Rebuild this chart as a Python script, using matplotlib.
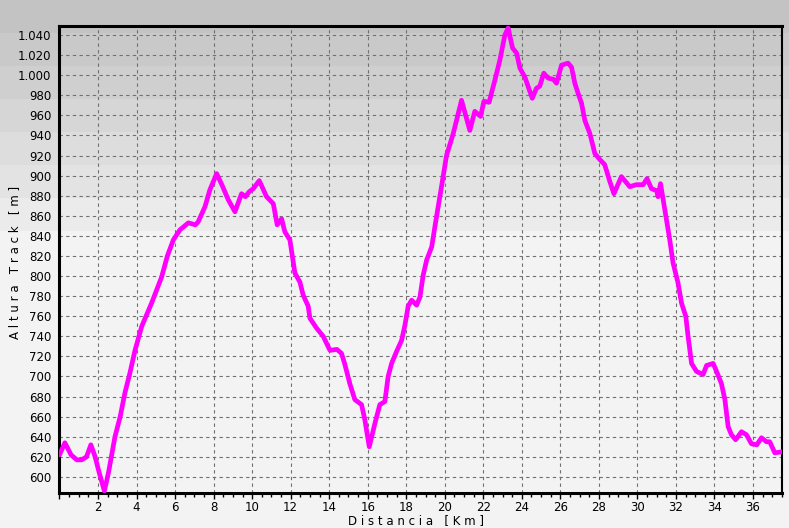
import numpy as np
import matplotlib
matplotlib.use('Agg')
import matplotlib.pyplot as plt
from matplotlib.ticker import MultipleLocator, FuncFormatter

# distance (km) and altitude (m)
dist_km = [0.0, 0.28, 0.6, 0.9, 1.15, 1.4, 1.63, 1.85, 2.05, 2.33,
           2.55, 2.88, 3.15, 3.40, 3.65, 3.92, 4.27, 4.78, 5.30, 5.6,
           5.91, 6.25, 6.69, 7.05, 7.2, 7.55, 7.81, 8.16, 8.45, 8.76,
           9.11, 9.3, 9.45, 9.65, 9.85, 10.06, 10.37, 10.75, 11.1, 11.3,
           11.53, 11.7, 11.96, 12.22, 12.48, 12.65, 12.91, 13.0, 13.35, 13.69,
           14.04, 14.4, 14.64, 14.8, 15.07, 15.33, 15.68, 15.85, 16.08, 16.37,
           16.63, 16.89, 17.06, 17.24, 17.5, 17.76, 17.93, 18.1, 18.28, 18.54,
           18.71, 18.88, 19.06, 19.32, 19.57, 19.83, 20.09, 20.44, 20.87, 21.3,
           21.56, 21.86, 22.03, 22.3, 22.6, 22.86, 23.12, 23.29, 23.52, 23.73,
           23.9, 24.16, 24.54, 24.76, 24.93, 25.14, 25.37, 25.63, 25.8, 26.06,
           26.4, 26.58, 26.75, 26.92, 27.1, 27.27, 27.53, 27.79, 28.05, 28.3,
           28.57, 28.78, 29.17, 29.6, 29.95, 30.3, 30.5, 30.73, 31.0, 31.07,
           31.2, 31.33, 31.51, 31.68, 31.85, 32.11, 32.29, 32.51, 32.63, 32.81,
           33.07, 33.41, 33.59, 33.93, 34.11, 34.36, 34.54, 34.71, 34.88, 35.1,
           35.4, 35.66, 35.92, 36.2, 36.44, 36.7, 36.87, 37.13, 37.5]
alt_m = [622, 634, 622, 617, 617, 620, 632, 620, 605, 586,
         605, 640, 660, 684, 703, 726, 750, 773, 799, 820,
         836, 846, 853, 851, 854, 869, 886, 902, 890, 876,
         864, 874, 882, 879, 884, 887, 895, 879, 872, 851,
         857, 844, 836, 803, 794, 781, 770, 758, 748, 740,
         726, 727, 723, 713, 693, 677, 672, 657, 630, 653,
         672, 675, 700, 713, 725, 736, 751, 770, 776, 771,
         779, 801, 816, 829, 859, 889, 920, 942, 975, 945,
         964, 959, 974, 973, 995, 1015, 1040, 1047, 1027, 1022,
         1007, 998, 977, 987, 989, 1002, 997, 996, 992, 1010,
         1012, 1008, 992, 982, 972, 955, 942, 922, 916, 911,
         894, 882, 899, 889, 891, 891, 897, 887, 885, 879,
         892, 877, 856, 836, 813, 793, 773, 760, 740, 713,
         705, 702, 711, 713, 705, 693, 677, 650, 642, 637,
         645, 642, 633, 632, 639, 635, 635, 624, 625]
assert len(dist_km) == len(alt_m)

fig = plt.figure(figsize=(7.89, 5.28), dpi=100)

# stepped grey background, darker at the top
bands = [0xc3, 0xc9, 0xcf, 0xd6, 0xdd, 0xe4, 0xeb] + [0xf4] * 9
bg = fig.add_axes([0, 0, 1, 1], zorder=-10)
shade = np.array([[b / 255.0] for b in bands])
bg.imshow(shade, cmap='gray', vmin=0, vmax=1, aspect='auto',
          extent=[0, 1, 0, 1], interpolation='nearest')
bg.set_axis_off()

ax = fig.add_axes([0.0754, 0.0663, 0.9156, 0.8845])
ax.patch.set_alpha(0)

ax.plot(dist_km, alt_m, color='#ff00ff', linewidth=3.4,
        solid_joinstyle='round', solid_capstyle='round', zorder=5)

ax.set_xlim(0, 37.5)
ax.set_ylim(584, 1049)
ax.xaxis.set_major_locator(MultipleLocator(2))
ax.xaxis.set_minor_locator(MultipleLocator(0.5))
ax.yaxis.set_major_locator(MultipleLocator(20))
ax.xaxis.set_major_formatter(FuncFormatter(lambda v, p: '' if v == 0 else f'{v:.0f}'))
ax.yaxis.set_major_formatter(FuncFormatter(lambda v, p: f'{v:,.0f}'.replace(',', '.')))

ax.grid(True, which='major', color='#707070', linestyle=(0, (3, 3)), linewidth=0.8)
ax.tick_params(axis='x', which='major', length=4, width=1, labelsize=8.5, pad=2)
ax.tick_params(axis='x', which='minor', length=3, width=1)
ax.tick_params(axis='y', which='major', length=0, labelsize=8.5, pad=6)

for side in ['left', 'bottom', 'top']:
    ax.spines[side].set_linewidth(2.2)
ax.spines['right'].set_linewidth(1.5)

# axis titles placed in figure pixels so they stay inside the canvas
fig.text(416 / 789, 1 - 521 / 528, 'D i s t a n c i a   [ K m ]',
         fontsize=8.5, ha='center', va='center')
fig.text(15 / 789, 1 - 262 / 528, 'A l t u r a   T r a c k   [ m ]',
         fontsize=8.5, ha='center', va='center', rotation=90)

fig.savefig('out.png', dpi=100)
